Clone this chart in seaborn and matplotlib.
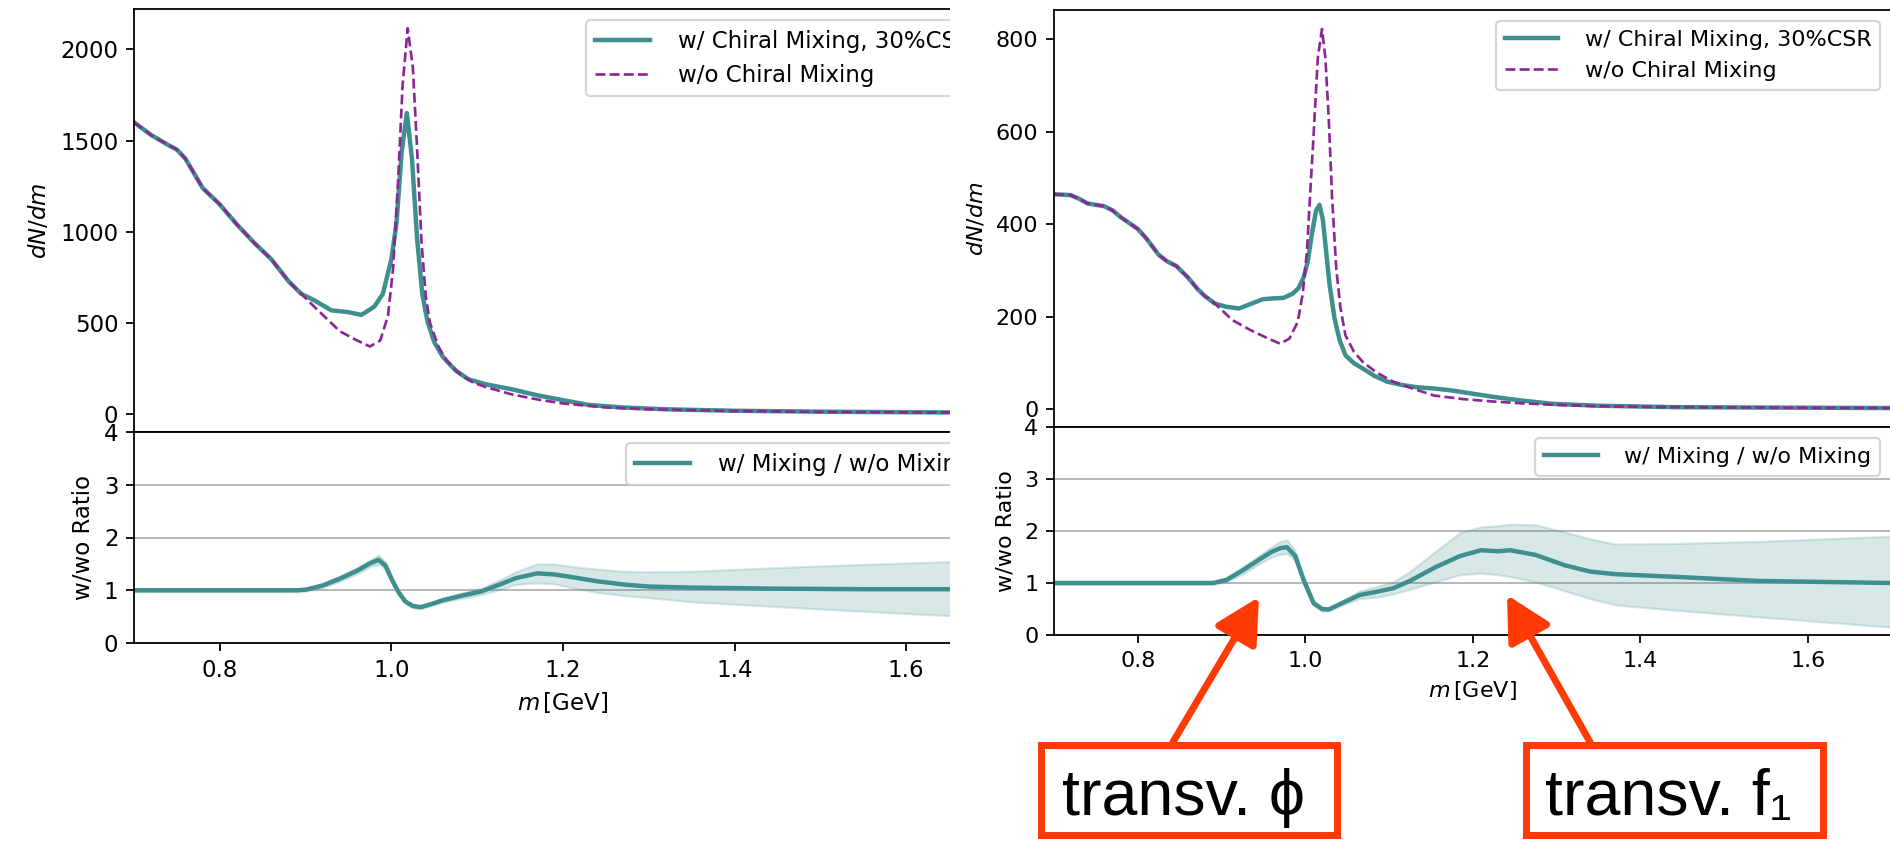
import matplotlib
matplotlib.use("Agg")
import numpy as np
import matplotlib.pyplot as plt
import seaborn as sns
from matplotlib.patches import Rectangle, FancyArrowPatch, ArrowStyle

# ---------------- data ----------------
# Left panel: dN/dm with chiral mixing (30% CSR)
m_left_mix = [0.70, 0.72, 0.74, 0.75, 0.76, 0.78, 0.80, 0.82, 0.84, 0.86, 0.88, 0.895,
              0.91, 0.93, 0.95, 0.965, 0.98, 0.99, 1.000, 1.006, 1.012, 1.018, 1.024,
              1.030, 1.036, 1.042, 1.050, 1.060, 1.075, 1.09, 1.11, 1.14, 1.17, 1.20,
              1.23, 1.27, 1.32, 1.40, 1.50, 1.60, 1.70]
dndm_left_mix = [1600, 1530, 1475, 1450, 1400, 1240, 1150, 1040, 940, 850, 730, 660,
                 625, 570, 560, 545, 590, 660, 850, 1050, 1440, 1650, 1400,
                 960, 660, 510, 395, 315, 240, 192, 165, 138, 105, 78,
                 52, 38, 28, 20, 15, 12, 10]

# Left panel: dN/dm without chiral mixing
m_left_nomix = [0.70, 0.72, 0.74, 0.75, 0.76, 0.78, 0.80, 0.82, 0.84, 0.86, 0.88, 0.895,
                0.91, 0.92, 0.94, 0.96, 0.975, 0.987, 0.996, 1.002, 1.008, 1.013, 1.019,
                1.025, 1.030, 1.035, 1.040, 1.045, 1.055, 1.065, 1.08, 1.095, 1.11, 1.14,
                1.17, 1.20, 1.25, 1.30, 1.40, 1.50, 1.60, 1.70]
dndm_left_nomix = [1600, 1530, 1475, 1450, 1400, 1240, 1150, 1040, 940, 850, 730, 660,
                   590, 545, 455, 405, 372, 405, 540, 800, 1300, 1800, 2115,
                   1900, 1450, 950, 650, 500, 370, 290, 220, 175, 150, 110,
                   82, 60, 38, 28, 19, 14, 11, 9]

# Left panel: ratio with uncertainty band
m_left_ratio = [0.70, 0.80, 0.89, 0.90, 0.92, 0.94, 0.96, 0.975, 0.985, 0.993, 1.000,
                1.008, 1.016, 1.025, 1.034, 1.045, 1.06, 1.08, 1.105, 1.125, 1.145, 1.17,
                1.19, 1.21, 1.24, 1.27, 1.30, 1.35, 1.45, 1.55, 1.70]
ratio_left = [1.00, 1.00, 1.00, 1.01, 1.09, 1.22, 1.37, 1.51, 1.575, 1.47, 1.22,
              0.97, 0.79, 0.70, 0.68, 0.73, 0.81, 0.89, 0.98, 1.10, 1.23, 1.32,
              1.30, 1.25, 1.17, 1.11, 1.07, 1.05, 1.03, 1.02, 1.02]
ratio_left_lo = [0.97, 0.97, 0.97, 0.98, 1.05, 1.17, 1.31, 1.45, 1.49, 1.40, 1.16,
                 0.93, 0.76, 0.67, 0.65, 0.70, 0.77, 0.84, 0.92, 1.01, 1.11, 1.14,
                 1.12, 1.05, 0.96, 0.90, 0.86, 0.78, 0.69, 0.60, 0.48]
ratio_left_hi = [1.03, 1.03, 1.03, 1.04, 1.13, 1.27, 1.43, 1.57, 1.67, 1.54, 1.28,
                 1.01, 0.82, 0.73, 0.71, 0.76, 0.85, 0.94, 1.04, 1.19, 1.35, 1.50,
                 1.50, 1.45, 1.40, 1.36, 1.35, 1.36, 1.43, 1.49, 1.57]

# Right panel: dN/dm with chiral mixing (30% CSR)
m_right_mix = [0.70, 0.72, 0.73, 0.74, 0.76, 0.77, 0.78, 0.80, 0.81, 0.825, 0.835, 0.846,
               0.86, 0.871, 0.88, 0.892, 0.905, 0.921, 0.935, 0.949, 0.962, 0.974, 0.985,
               0.992, 0.998, 1.003, 1.008, 1.013, 1.017, 1.021, 1.025, 1.029, 1.035, 1.041,
               1.048, 1.058, 1.069, 1.083, 1.098, 1.115, 1.133, 1.155, 1.175, 1.20, 1.225,
               1.26, 1.296, 1.35, 1.438, 1.55, 1.70]
dndm_right_mix = [465, 463, 455, 445, 439, 430, 415, 390, 370, 334, 320, 310,
                  285, 261, 245, 229, 222, 218, 228, 238, 240, 241, 250,
                  262, 285, 320, 380, 430, 442, 410, 340, 270, 196, 150,
                  117, 100, 88, 72, 60, 53, 48, 45, 41, 34, 27,
                  19, 12, 8, 5, 4, 3]

# Right panel: dN/dm without chiral mixing
m_right_nomix = [0.70, 0.72, 0.73, 0.74, 0.76, 0.77, 0.78, 0.80, 0.81, 0.825, 0.835, 0.846,
                 0.86, 0.871, 0.88, 0.892, 0.913, 0.935, 0.956, 0.970, 0.981, 0.991, 0.997,
                 1.002, 1.006, 1.010, 1.015, 1.020, 1.024, 1.028, 1.032, 1.037, 1.042,
                 1.048, 1.058, 1.069, 1.085, 1.105, 1.13, 1.154, 1.19, 1.225, 1.26, 1.296,
                 1.35, 1.438, 1.55, 1.70]
dndm_right_nomix = [465, 463, 455, 445, 439, 430, 415, 390, 370, 334, 320, 310,
                    285, 261, 245, 229, 193, 171, 153, 142, 153, 189, 250,
                    341, 470, 594, 760, 822, 760, 630, 460, 305, 220,
                    160, 125, 102, 80, 60, 44, 30, 22, 17, 13, 10,
                    7, 5, 4, 3]

# Right panel: ratio with uncertainty band
m_right_ratio = [0.70, 0.80, 0.89, 0.906, 0.926, 0.945, 0.96, 0.97, 0.978, 0.988, 0.998,
                 1.010, 1.020, 1.028, 1.045, 1.065, 1.085, 1.105, 1.125, 1.155, 1.185,
                 1.21, 1.23, 1.245, 1.275, 1.31, 1.34, 1.37, 1.44, 1.54, 1.70]
ratio_right = [1.00, 1.00, 1.00, 1.06, 1.25, 1.45, 1.60, 1.67, 1.69, 1.52, 1.06,
               0.61, 0.50, 0.49, 0.62, 0.77, 0.83, 0.90, 1.04, 1.30, 1.52,
               1.63, 1.61, 1.63, 1.54, 1.34, 1.22, 1.17, 1.12, 1.04, 1.00]
ratio_right_lo = [0.97, 0.97, 0.97, 1.02, 1.18, 1.37, 1.50, 1.55, 1.57, 1.44, 1.00,
                  0.57, 0.46, 0.46, 0.58, 0.70, 0.73, 0.79, 0.88, 1.02, 1.16,
                  1.19, 1.16, 1.12, 1.02, 0.85, 0.70, 0.58, 0.48, 0.35, 0.15]
ratio_right_hi = [1.03, 1.03, 1.03, 1.10, 1.32, 1.53, 1.70, 1.80, 1.83, 1.62, 1.12,
                  0.66, 0.54, 0.52, 0.67, 0.85, 0.93, 1.02, 1.22, 1.60, 1.97,
                  2.08, 2.10, 2.13, 2.12, 1.98, 1.85, 1.75, 1.76, 1.80, 1.90]

label_mix = "w/ Chiral Mixing, 30%CSR"
label_nomix = "w/o Chiral Mixing"
label_ratio = "w/ Mixing / w/o Mixing"

TEAL = "#3f8f8e"
PURPLE = "#8b2795"
RED = "#ff3a05"

# ---------------- figure ----------------
W, H, DPI = 1890, 842, 160
plt.rcParams["font.family"] = ["DejaVu Sans"]
fig = plt.figure(figsize=(W / DPI, H / DPI), dpi=DPI)
fig.patch.set_facecolor("white")


def px_box(left, top, right, bottom):
    return [left / W, 1 - bottom / H, (right - left) / W, (bottom - top) / H]


def px_pt(x, y):
    return (x / W, 1 - y / H)


LEG_KW = dict(loc="upper right", handlelength=2.4, handletextpad=1.2)


def draw_panel(rect_top, rect_ratio, m_mix, d_mix, m_nomix, d_nomix,
               m_r, r, r_lo, r_hi, fs, z):
    ax = fig.add_axes(rect_top, zorder=z)
    axr = fig.add_axes(rect_ratio, zorder=z)

    sns.lineplot(x=m_mix, y=d_mix, ax=ax, color=TEAL, lw=2.0, label=label_mix)
    sns.lineplot(x=m_nomix, y=d_nomix, ax=ax, color=PURPLE, lw=1.2,
                 linestyle="--", label=label_nomix)
    ax.set_xlim(0.7, 1.7)
    ax.set_xticks([0.8, 1.0, 1.2, 1.4, 1.6])
    ax.tick_params(axis="x", bottom=False, labelbottom=False)
    ax.tick_params(axis="y", labelsize=fs)
    ax.set_xlabel("")
    ax.set_ylabel(r"$dN/dm$", fontsize=fs)
    ax.legend(fontsize=fs, **LEG_KW)

    axr.fill_between(m_r, r_lo, r_hi, color=TEAL, alpha=0.2)
    sns.lineplot(x=m_r, y=r, ax=axr, color=TEAL, lw=2.0, label=label_ratio)
    axr.set_xlim(0.7, 1.7)
    axr.set_ylim(0, 4)
    axr.set_yticks([0, 1, 2, 3, 4])
    axr.set_xticks([0.8, 1.0, 1.2, 1.4, 1.6])
    axr.set_axisbelow(True)
    axr.grid(axis="y", color="#b8b8b8", lw=0.9)
    axr.tick_params(labelsize=fs)
    axr.set_xlabel(r"$m\,$[GeV]", fontsize=fs)
    axr.set_ylabel("w/wo Ratio", fontsize=fs)
    axr.legend(fontsize=fs, **LEG_KW)
    return ax, axr


# left panel
draw_panel(px_box(134, 9, 992, 432), px_box(134, 432, 992, 643),
           m_left_mix, dndm_left_mix, m_left_nomix, dndm_left_nomix,
           m_left_ratio, ratio_left, ratio_left_lo, ratio_left_hi, 10.3, 0)

# the left panel is cut off on its right side
fig.add_artist(Rectangle((950 / W, 1 - 720 / H), 60 / W, 720 / H,
                         transform=fig.transFigure, facecolor="white",
                         edgecolor="none", zorder=1))

# right panel
draw_panel(px_box(1054, 10, 1891.5, 427), px_box(1054, 427, 1891.5, 635),
           m_right_mix, dndm_right_mix, m_right_nomix, dndm_right_nomix,
           m_right_ratio, ratio_right, ratio_right_lo, ratio_right_hi, 10.0, 2)

# ---------------- annotations ----------------
box_lw = 7 * 72 / DPI
for (l, t, r_, b) in [(1041, 745, 1337, 835), (1526, 745, 1823, 835)]:
    fig.add_artist(Rectangle(px_pt(l, b), (r_ - l) / W, (b - t) / H,
                             transform=fig.transFigure, facecolor="white",
                             edgecolor=RED, lw=box_lw, joinstyle="miter", zorder=5))

txt_family = ["Liberation Sans", "DejaVu Sans"]
fig.text(*px_pt(1062, 815), "transv. \u03d5", fontsize=29, family=txt_family,
         ha="left", va="baseline", color="black", zorder=6)
fig.text(*px_pt(1545, 815), "transv. f\u2081", fontsize=29, family=txt_family,
         ha="left", va="baseline", color="black", zorder=6)

style = ArrowStyle("-|>", head_length=17, head_width=9)
for tail, tip in [((1173, 742), (1259, 597)), ((1590, 742), (1507, 595))]:
    fig.add_artist(FancyArrowPatch(px_pt(*tail), px_pt(*tip),
                                   transform=fig.transFigure, arrowstyle=style,
                                   mutation_scale=1, lw=box_lw, color=RED,
                                   shrinkA=0, shrinkB=0, zorder=5))

fig.savefig("out.png", dpi=DPI, facecolor="white")
